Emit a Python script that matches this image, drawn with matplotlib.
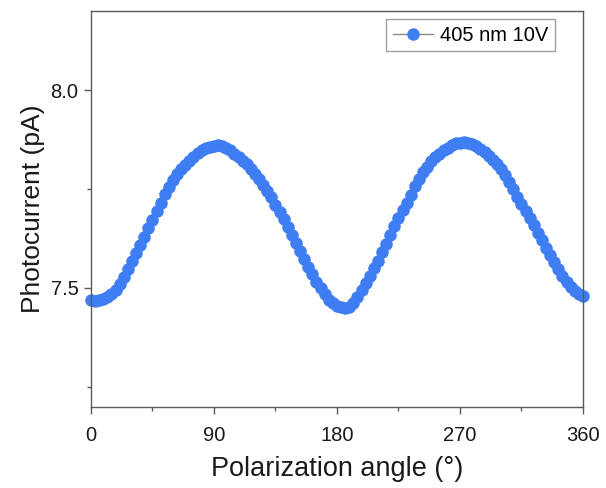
import numpy as np
import matplotlib.pyplot as plt
from matplotlib.ticker import MultipleLocator

plt.rcParams['font.family'] = ['Liberation Sans', 'DejaVu Sans']

# --- Data: photocurrent vs. polarization angle (405 nm, 10 V bias) ---
angle = np.arange(0, 361, 3)
current = [
    7.470, 7.468, 7.469, 7.471, 7.476, 7.484, 7.495, 7.510, 7.528, 7.547,
    7.568, 7.589, 7.609, 7.630, 7.651, 7.672, 7.694, 7.715, 7.737, 7.755,
    7.772, 7.787, 7.800, 7.812, 7.822, 7.832, 7.841, 7.848, 7.853, 7.856,
    7.860, 7.861, 7.858, 7.854, 7.848, 7.840, 7.831, 7.822, 7.813, 7.802,
    7.789, 7.776, 7.761, 7.746, 7.729, 7.711, 7.693, 7.674, 7.654, 7.634,
    7.613, 7.593, 7.573, 7.554, 7.535, 7.516, 7.499, 7.484, 7.470, 7.461,
    7.455, 7.451, 7.450, 7.452, 7.462, 7.478, 7.496, 7.513, 7.531, 7.550,
    7.569, 7.590, 7.612, 7.635, 7.656, 7.676, 7.696, 7.716, 7.736, 7.757,
    7.776, 7.792, 7.807, 7.820, 7.830, 7.839, 7.848, 7.855, 7.862, 7.866,
    7.867, 7.868, 7.867, 7.864, 7.859, 7.852, 7.843, 7.833, 7.823, 7.813,
    7.800, 7.785, 7.768, 7.750, 7.731, 7.712, 7.694, 7.677, 7.658, 7.639,
    7.620, 7.601, 7.583, 7.565, 7.548, 7.531, 7.516, 7.503, 7.493, 7.485,
    7.480,
]
label = "405 nm 10V"

fig = plt.figure(figsize=(6.06, 4.88), dpi=100)
ax = fig.add_axes([0.150, 0.167, 0.812, 0.810])

ax.plot(angle, current, color='#8c8c8c', lw=1, marker='o', ms=8,
        mfc='#3f7ef2', mec='#3f7ef2', label=label, clip_on=False)

ax.set_xlim(0, 360)
ax.set_ylim(7.2, 8.2)
ax.xaxis.set_major_locator(MultipleLocator(90))
ax.xaxis.set_minor_locator(MultipleLocator(45))
ax.set_yticks([7.5, 8.0])
ax.set_yticklabels(['7.5', '8.0'])
ax.yaxis.set_minor_locator(MultipleLocator(0.25))

for s in ax.spines.values():
    s.set_color('#5a5a5a')
    s.set_linewidth(1.0)
ax.tick_params(which='both', direction='out', colors='#5a5a5a',
               labelcolor='#1a1a1a', labelsize=14.5, width=1.0)
ax.tick_params(which='major', length=5)
ax.tick_params(axis='x', which='major', pad=9)
ax.tick_params(axis='y', which='major', pad=4)
ax.tick_params(which='minor', length=3)

ax.set_xlabel('Polarization angle (°)', fontsize=19.5, color='#1a1a1a', labelpad=8)
ax.set_ylabel('Photocurrent (pA)', fontsize=19, color='#1a1a1a', labelpad=4)

leg = ax.legend(loc='upper right', bbox_to_anchor=(0.943, 0.980),
                fontsize=14.5, frameon=True, fancybox=False, handlelength=2.0,
                borderpad=0.33, handletextpad=0.35, borderaxespad=0.0)
leg.get_frame().set_edgecolor('#888888')
leg.get_frame().set_linewidth(1.0)

fig.savefig('out.png', dpi=100)
